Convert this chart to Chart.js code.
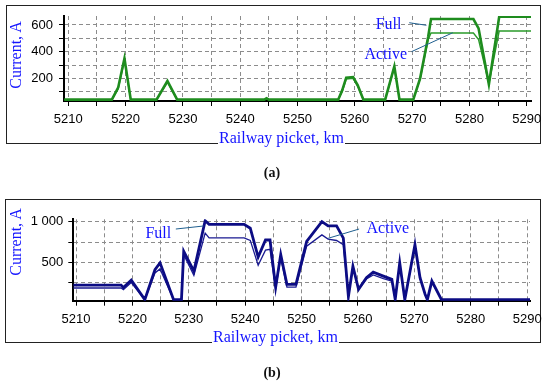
<!DOCTYPE html>
<html><head><meta charset="utf-8">
<script src="https://cdn.jsdelivr.net/npm/chart.js@4/dist/chart.umd.min.js"></script>
<style>
html,body{margin:0;padding:0;background:#fff;}
body{width:550px;height:385px;position:relative;overflow:hidden;}
.frame{position:absolute;border:1px solid #222;box-sizing:border-box;}
.cv{position:absolute;left:0;}
.xt,.yt{position:absolute;font:16px "Liberation Serif","Times New Roman",serif;color:#1414ff;line-height:16px;white-space:nowrap;z-index:5;}
.xt{background:#fff;padding:0 1px;}
.yt{width:100px;height:16px;text-align:center;transform:rotate(-90deg);}
.cap{position:absolute;width:40px;text-align:center;font:bold 14px "Liberation Serif","Times New Roman",serif;color:#111;line-height:16px;}
</style></head>
<body>
<div class="frame" style="left:6px;top:5px;width:535px;height:139px;"></div>
<div class="frame" style="left:5px;top:199px;width:536px;height:144px;"></div>
<canvas id="c1" class="cv" style="top:0;" width="550" height="190"></canvas>
<canvas id="c2" class="cv" style="top:190px;" width="550" height="195"></canvas>
<div class="yt" style="left:-34px;top:47px;">Current, A</div>
<div class="xt" style="left:218px;top:130px;">Railway picket, km</div>
<div class="yt" style="left:-34px;top:234px;">Current, A</div>
<div class="xt" style="left:212px;top:329px;">Railway picket, km</div>
<div class="cap" style="left:252px;top:165px;">(a)</div>
<div class="cap" style="left:252px;top:365px;">(b)</div>
<script>
// ---- chart (a) data ----
const topKm     = [5209.3,5217.6,5218.7,5219.8,5220.9,5225.4,5227.3,5229.0,5244.2,5244.6,5245.0,5257.1,5257.8,5258.5,5259.7,5260.5,5261.5,5265.3,5266.9,5267.8,5270.2,5271.4,5272.8,5273.3,5280.7,5281.6,5283.4,5285.2,5290.8];
const topFull   = [40,40,130,350,40,40,180,40,40,50,40,40,110,205,210,150,40,40,290,40,40,200,510,645,645,575,155,662,662];
const topActive = [40,40,120,335,40,40,170,40,40,46,40,40,100,195,200,140,40,40,280,40,40,195,490,540,540,490,160,555,555];
const topXTicks = [5210,5215,5220,5225,5230,5235,5240,5245,5250,5255,5260,5265,5270,5275,5280,5285,5290];
const topYTicks = [100,200,300,400,500,600];
const topYLabels = [200,400,600];

// ---- chart (b) data ----
const botKm     = [5209.5,5218.0,5218.4,5219.8,5222.2,5224.0,5224.9,5227.3,5228.7,5229.1,5230.9,5232.9,5233.6,5239.8,5240.9,5242.3,5243.6,5244.4,5245.4,5246.3,5247.4,5249.0,5250.9,5253.6,5254.7,5256.2,5257.4,5258.3,5259.1,5260.1,5261.5,5262.7,5264.5,5266.0,5266.6,5267.4,5268.3,5270.1,5271.0,5271.9,5272.3,5273.1,5274.8,5290.5];
const botFull   = [220,220,190,282,42,410,494,42,42,635,392,1012,968,968,920,565,775,775,195,595,230,230,757,1000,948,948,798,80,453,169,311,380,331,291,45,494,42,717,311,108,42,270,42,42];
const botActive = [185,185,165,252,42,370,420,42,42,595,340,860,800,800,770,465,650,660,175,560,195,195,700,838,786,769,717,80,440,169,295,345,300,270,45,480,42,700,300,108,42,260,42,42];
const botXTicks = topXTicks;
const botYTicks = [250,500,750,1000];
const botYLabels = [500,1000];

// annotation anchors (km, A)
const topNotes = [
  {text:'Full',   at:[5265.9,600], from:[5269.5,617], to:[5272.5,598]},
  {text:'Active', at:[5265.4,375], from:[5269.9,400], to:[5277.1,542]}
];
const botNotes = [
  {text:'Full',   at:[5224.6,855], from:[5227.7,910], to:[5232.6,947]},
  {text:'Active', at:[5265.3,910], from:[5260.2,910], to:[5254.7,796]}
];

const pts = (xs, ys) => xs.map((x,i)=>({x:x, y:ys[i]}));

const notePlugin = {
  id:'notes',
  afterDatasetsDraw(chart){
    const notes = chart.options.plugins.notes.items;
    const {ctx, scales:{x, y}} = chart;
    ctx.save();
    notes.forEach(n=>{
      ctx.strokeStyle = '#1f5f8f';
      ctx.lineWidth = 1;
      ctx.beginPath();
      ctx.moveTo(x.getPixelForValue(n.from[0]), y.getPixelForValue(n.from[1]));
      ctx.lineTo(x.getPixelForValue(n.to[0]), y.getPixelForValue(n.to[1]));
      ctx.stroke();
      ctx.fillStyle = '#1414ff';
      ctx.font = '16px "Liberation Serif", "Times New Roman", serif';
      ctx.textAlign = 'center';
      ctx.textBaseline = 'middle';
      ctx.fillText(n.text, x.getPixelForValue(n.at[0]), y.getPixelForValue(n.at[1]));
    });
    ctx.restore();
  }
};

function makeChart(id, cfg){
  const tickFont = {family:'"Liberation Sans", Arial, sans-serif', size:13};
  return new Chart(document.getElementById(id), {
    type:'line',
    data:{datasets:[
      {label:'Full', data:pts(cfg.km, cfg.full), borderColor:cfg.c1, borderWidth:cfg.w1, pointRadius:0, fill:false, tension:0},
      {label:'Active', data:pts(cfg.km, cfg.active), borderColor:cfg.c2, borderWidth:cfg.w2, pointRadius:0, fill:false, tension:0}
    ]},
    options:{
      responsive:false, animation:false,
      layout:{padding:{left:0, right:cfg.padR, top:cfg.padT, bottom:0}},
      plugins:{legend:{display:false}, tooltip:{enabled:false}, notes:{items:cfg.notes}},
      scales:{
        x:{type:'linear', min:cfg.xmin, max:cfg.xmax,
          afterBuildTicks:s=>{s.ticks = cfg.xticks.map(v=>({value:v}));},
          afterFit:s=>{s.height = cfg.xh;},
          ticks:{callback:v=> v%10===0 ? String(v) : '', font:tickFont, color:'#000', padding:cfg.xpad, maxRotation:0, autoSkip:false},
          grid:{color:'#8c8c8c', lineWidth:1, tickColor:'#000', tickLength:5, tickBorderDash:[], tickWidth:1},
          border:{display:true, color:'#000', width:2, dash:[4,3]}
        },
        y:{type:'linear', min:cfg.ymin, max:cfg.ymax,
          afterBuildTicks:s=>{s.ticks = cfg.yticks.map(v=>({value:v}));},
          afterFit:s=>{s.width = cfg.yw;},
          ticks:{callback:v=> cfg.ylabels.includes(v) ? (v===1000 ? '1 000' : String(v)) : '', font:tickFont, color:'#000', padding:cfg.ypad, autoSkip:false},
          grid:{color:'#8c8c8c', lineWidth:1, tickColor:'#000', tickLength:5, tickBorderDash:[], tickWidth:1},
          border:{display:true, color:'#000', width:2, dash:[4,3]}
        }
      }
    },
    plugins:[notePlugin]
  });
}

makeChart('c1', {km:topKm, full:topFull, active:topActive, c1:'#1e8c1e', c2:'#2a9a2a', w1:2.6, w2:1.4,
  xmin:5209.25, xmax:5290.75, ymin:30, ymax:667.5, xticks:topXTicks, yticks:topYTicks, ylabels:topYLabels,
  padR:19, padT:16, xh:89, yw:64, xpad:6, ypad:6, notes:topNotes});
makeChart('c2', {km:botKm, full:botFull, active:botActive, c1:'#0c0c84', c2:'#1a1a92', w1:2.8, w2:1.3,
  xmin:5209.52, xmax:5290.5, ymin:29, ymax:1029.5, xticks:botXTicks, yticks:botYTicks, ylabels:botYLabels,
  padR:20, padT:29.3, xh:84.3, yw:73.3, xpad:6, ypad:5, notes:botNotes});
</script>
</body></html>
